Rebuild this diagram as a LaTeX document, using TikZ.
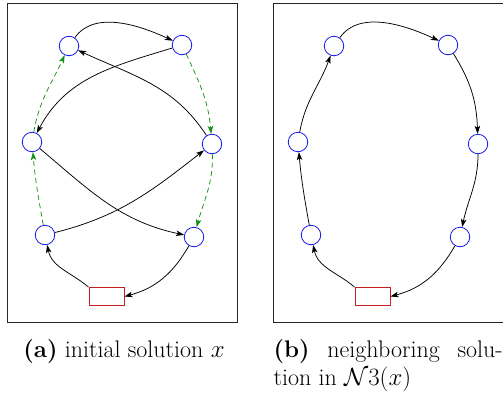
\documentclass[tikz,border=0pt]{standalone}
\usetikzlibrary{arrows.meta}
\definecolor{depotred}{RGB}{200,30,30}
\definecolor{vblue}{RGB}{20,20,235}
\definecolor{mgreen}{RGB}{20,145,20}
\begin{document}
\begin{tikzpicture}[x=1pt,y=-1pt,
  vtx/.style={circle,draw=vblue,line width=0.8pt,minimum size=19.5pt,inner sep=0pt},
  depot/.style={rectangle,draw=depotred,line width=1pt,minimum width=35pt,minimum height=18pt,inner sep=0pt},
  frm/.style={draw=black!85,line width=1pt},
  arc/.style={-{Stealth[length=8pt,width=5.5pt,inset=2pt]},line width=0.75pt,black},
  move/.style={-{Stealth[length=8pt,width=5.5pt,inset=2pt]},line width=0.75pt,mgreen,dash pattern=on 5pt off 3.5pt},
  captext/.style={font=\fontsize{24}{28}\selectfont,inner sep=0pt}]
\useasboundingbox (0,0) rectangle (503,394);
% frames
\draw[frm] (7,3.5) rectangle (237,322);
\draw[frm] (273,3.5) rectangle (504,322);
% panel (a)
\node[vtx] (a1) at (69,46) {};
\node[vtx] (a2) at (182,45) {};
\node[vtx] (a3) at (32,142) {};
\node[vtx] (a4) at (212,144) {};
\node[vtx] (a5) at (45,235) {};
\node[vtx] (a6) at (194,237) {};
\node[depot] (a0) at (106.5,296.5) {};
\draw[arc] (a1) to[out=55,in=155,looseness=0.9] (a2);
\draw[arc] (a2) to[out=197,in=62] (a3);
\draw[arc] (a4) to[out=123,in=-25] (a1);
\draw[arc] (a3) to[out=-40,in=168] (a6);
\draw[arc] (a5) to[out=14,in=218] (a4);
\draw[arc] (a6) to[out=240,in=15] (a0.east);
\draw[arc] (a0.north west) to[out=140,in=-78] (a5);
\draw[move] (a5) to[out=100,in=-85] (a3);
\draw[move] (a3) to[out=80,in=245] (a1);
\draw[move] (a2) to[out=-65,in=95] (a4);
\draw[move] (a4) to[out=-88,in=75] (a6);
% panel (b)
\node[vtx] (b1) at (334,46) {};
\node[vtx] (b2) at (448,45) {};
\node[vtx] (b3) at (298,142) {};
\node[vtx] (b4) at (478,144) {};
\node[vtx] (b5) at (311,235) {};
\node[vtx] (b6) at (460,237) {};
\node[depot] (b0) at (372.5,296.5) {};
\draw[arc] (b1) to[out=55,in=155,looseness=0.9] (b2);
\draw[arc] (b2) to[out=-58,in=92] (b4);
\draw[arc] (b4) to[out=-90,in=78] (b6);
\draw[arc] (b6) to[out=240,in=15] (b0.east);
\draw[arc] (b0.north west) to[out=140,in=-78] (b5);
\draw[arc] (b5) to[out=100,in=-85] (b3);
\draw[arc] (b3) to[out=80,in=250] (b1);
% captions
\node[captext,anchor=base] (capa) at (124,357) {\textbf{(a)} initial solution $x$};
\node[captext,anchor=base west,text width=229pt,align=justify] (capb) at (273.5,357) {\textbf{(b)} neighboring solu-\linebreak tion in $\mathcal{N}3(x)$};
\end{tikzpicture}
\end{document}
